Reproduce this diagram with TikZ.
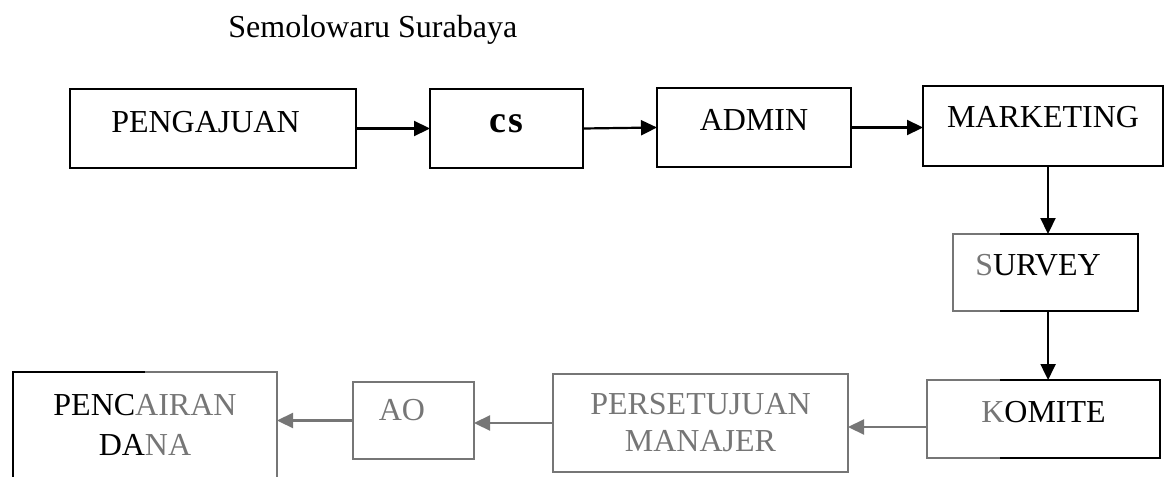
\documentclass[tikz,border=0pt]{standalone}
\usepackage{fontspec}
\setmainfont{Liberation Serif}
\usetikzlibrary{arrows.meta,calc}
\definecolor{wm}{RGB}{118,118,118}
\begin{document}
\begin{tikzpicture}[x=0.5pt,y=-0.5pt,
  box/.style={draw=black, line width=1pt, inner sep=0pt, outer sep=0pt,
    font=\fontsize{16}{18.5}\selectfont, align=center},
  flow/.style={line width=1.1pt, -{Triangle[length=8pt,width=7.5pt]}},
  wmbox/.style={box, draw=wm, text=wm},
  ]
\useasboundingbox (0,0) rectangle (1169,477);
\node[font=\fontsize{16}{19}\selectfont, anchor=base west, inner sep=0pt] (title) at (228,37) {Semolowaru Surabaya};

% top row
\node[box, minimum width=143pt, text height=21.5pt, text depth=18pt] (peng) at (213,128.5) {PENGAJUAN\hspace{7.5pt}};
\node[box, minimum width=76.5pt, text height=21.5pt, text depth=18pt] (cs) at (506.5,128.5) {\fontsize{19}{20}\selectfont\bfseries c\kern1pt s};
\node[box, minimum width=97pt, text height=21pt, text depth=18.5pt] (admin) at (754,127.5) {ADMIN};
\node[box, minimum width=120pt, text height=20.5pt, text depth=19.5pt] (mkt) at (1043,126) {MARKETING};

% right column
\node[box, minimum width=92.5pt, text height=20.5pt, text depth=18pt] (survey) at (1045.5,272.5) {\textcolor{wm}{S}URVEY\hspace{7.5pt}};
\node[box, minimum width=116.5pt, text height=21pt, text depth=18pt] (komite) at (1043.5,419) {\textcolor{wm}{K}OMITE};

% bottom row
\node[wmbox, minimum width=147.5pt, minimum height=49pt] (pers) at (700.5,423) {PERSETUJUAN\\MANAJER};
\node[wmbox, minimum width=60.5pt, text height=19pt, text depth=19.5pt] (ao) at (413.5,420.5) {AO\hspace{11.5pt}};
\node[box, draw=none, minimum width=132pt, minimum height=52.5pt,
  font=\fontsize{16}{20}\selectfont] (pen) at (145,424.5) {PENC\textcolor{wm}{AIRAN}\\DA\textcolor{wm}{NA}};
\draw[line width=1pt] (pen.south west) -- (pen.north west) -- (pen.north);
\draw[line width=1pt, wm] (pen.north) -- (pen.north east) -- (pen.south east);

% watermark-greyed edges
\draw[line width=1pt, wm] ($(survey.north west)+(47,0)$) -- (survey.north west) -- (survey.south west) -- ($(survey.south west)+(47,0)$);
\draw[line width=1pt, wm] ($(komite.north west)+(73,0)$) -- (komite.north west) -- (komite.south west) -- ($(komite.south west)+(73,0)$);

% connectors
\draw[flow] (peng.east) -- (cs.west);
\draw[flow] (cs.east) -- (admin.west);
\draw[flow] (admin.east) -- (mkt.west |- admin.east);
\draw[flow] ([xshift=2.5pt]mkt.south) -- ([xshift=2.5pt]mkt.south |- survey.north);
\draw[flow] ([xshift=1.3pt]survey.south) -- ([xshift=1.3pt]survey.south |- komite.north);
\draw[flow, wm] ([yshift=-4pt]komite.west) -- ([yshift=-4pt]komite.west -| pers.east);
\draw[flow, wm] (pers.west) -- (pers.west -| ao.east);
\draw[flow, wm] (ao.west) -- (ao.west -| pen.east);
\end{tikzpicture}
\end{document}
